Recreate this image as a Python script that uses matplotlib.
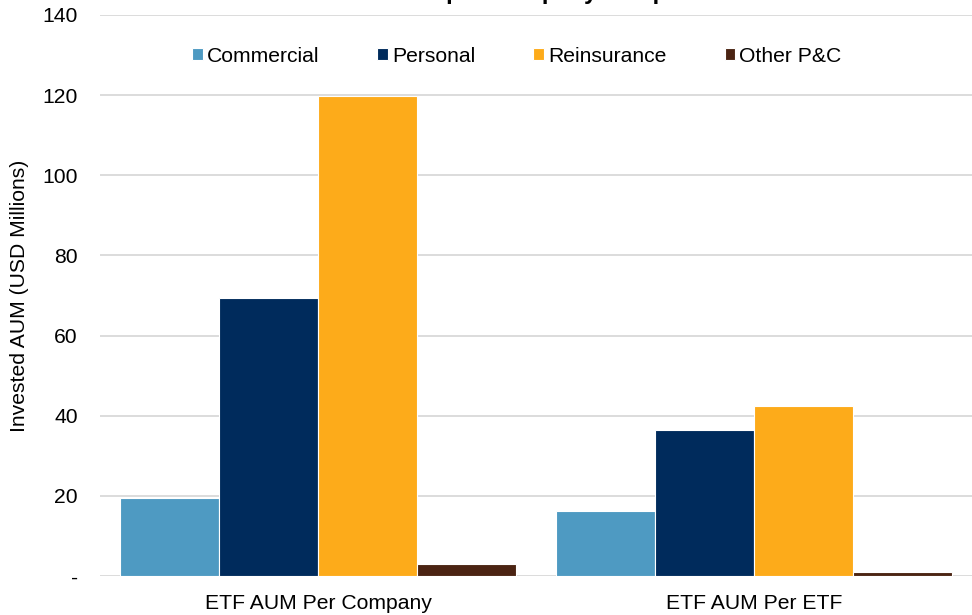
import matplotlib
matplotlib.use("Agg")
import matplotlib.pyplot as plt
import numpy as np

plt.rcParams['font.family'] = ['Liberation Sans', 'DejaVu Sans']

categories = ["ETF AUM Per Company", "ETF AUM Per ETF"]
series_names = ["Commercial", "Personal", "Reinsurance", "Other P&C"]
commercial = [19.5, 16.1]
personal = [69.4, 36.4]
reinsurance = [119.8, 42.4]
other_pc = [2.9, 1.1]
yticks = [0, 20, 40, 60, 80, 100, 120, 140]
ytick_labels = ["-", "20", "40", "60", "80", "100", "120", "140"]
title = "Invested AUM per Company and per ETF"

colors = ["#4E9AC2", "#002B5C", "#FDAB1A", "#4B2413"]
values = [commercial, personal, reinsurance, other_pc]

FS = 15.2

fig = plt.figure(figsize=(9.72, 6.15), dpi=100)
ax = fig.add_axes([100/972, 1 - 576/615, 872/972, (576-15)/615])

x = np.arange(len(categories))
bw = 0.227
offsets = (np.arange(4) - 1.5) * bw
for vals, off, c, name in zip(values, offsets, colors, series_names):
    ax.bar(x + off, vals, width=bw, color=c, edgecolor="white", linewidth=0.8,
           label=name, zorder=3)

ax.set_xlim(-0.5, 1.5)
ax.set_ylim(0, 140)
ax.set_yticks(yticks)
ax.set_yticklabels(ytick_labels, fontsize=FS)
ax.set_xticks(x)
ax.set_xticklabels(categories, fontsize=FS)
ax.tick_params(axis='both', length=0)
ax.tick_params(axis='y', pad=16)
ax.tick_params(axis='x', pad=13)
ax.grid(axis='y', color="#D9D9D9", linewidth=1.3, zorder=0)
ax.set_axisbelow(True)
for s in ax.spines.values():
    s.set_visible(False)

ax.set_ylabel("Invested AUM (USD Millions)", fontsize=FS)
ax.yaxis.set_label_coords(-71/872, 0.5)

leg = ax.legend(loc='center', bbox_to_anchor=(0.478, 1 - (56-15)/561), ncol=4,
                frameon=False, fontsize=FS, handlelength=0.5, handleheight=0.5,
                handletextpad=0.2, columnspacing=2.75)

fig.text(0.527, 1 + 1.5/615, title, ha='center', va='baseline',
         fontsize=17, fontweight='bold')

fig.savefig("out.png", dpi=100)
